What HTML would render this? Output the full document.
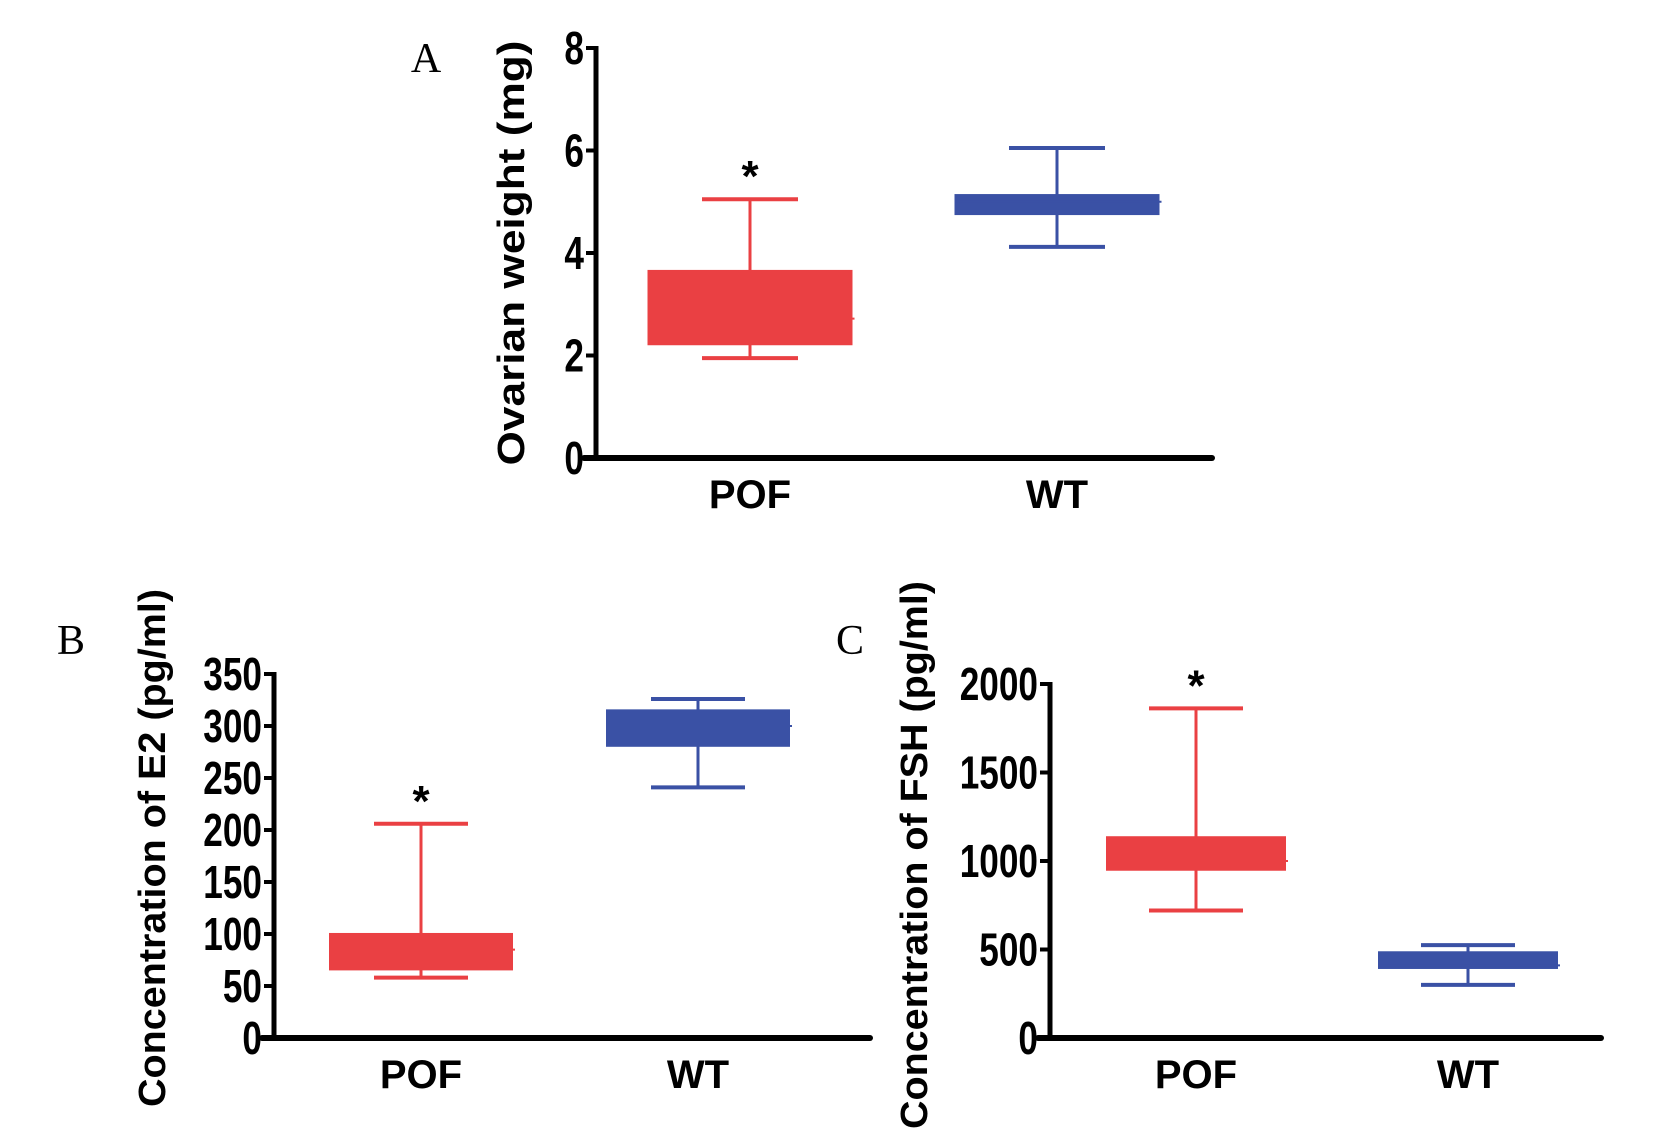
<!DOCTYPE html>
<html><head><meta charset="utf-8"><style>
html,body{margin:0;padding:0;background:#fff;}
svg{display:block;}
text{font-family:"Liberation Sans",Arial,sans-serif;font-weight:bold;fill:#000;}
.pl{font-family:"Liberation Serif",serif;font-weight:normal;}
</style></head><body>
<svg id="fig" width="1654" height="1143" viewBox="0 0 1654 1143" xmlns="http://www.w3.org/2000/svg"></svg>
<script>
const categories = ["POF", "WT"];
const colors = ["#ea4043", "#3a51a5"];
// Panel A: ovarian weight (mg) [min, q1, median, q3, max]
const aStats = [[1.95, 2.2, 2.72, 3.67, 5.05], [4.12, 4.74, 5.0, 5.15, 6.05]];
const aTicks = [0, 2, 4, 6, 8];
// Panel B: E2 (pg/ml)
const bStats = [[58, 65, 85, 101, 206], [241, 280, 300, 316, 326]];
const bTicks = [0, 50, 100, 150, 200, 250, 300, 350];
// Panel C: FSH (pg/ml)
const cStats = [[720, 945, 1000, 1140, 1862], [300, 390, 410, 490, 525]];
const cTicks = [0, 500, 1000, 1500, 2000];
const stars = ["POF"];

const NS = "http://www.w3.org/2000/svg";
const svg = document.getElementById("fig");
function el(tag, attrs, parent) {
  const e = document.createElementNS(NS, tag);
  for (const k in attrs) e.setAttribute(k, attrs[k]);
  (parent || svg).appendChild(e);
  return e;
}
function panel(cfg) {
  const g = el("g", {});
  
  
  const ymax = cfg.ticks[cfg.ticks.length - 1];
  const y = v => cfg.y0 - (v / ymax) * (cfg.y0 - cfg.yTop);
  const x = i => cfg.centers[i];
  const L = el("text", {x: cfg.letter[1], y: cfg.letter[2], class: "pl", "font-size": 42, "text-anchor": "middle"}, g);
  L.textContent = cfg.letter[0];
  
  
  cfg.stats.forEach((s, i) => {
    const c = colors[i], cx = x(i), hw = cfg.boxW / 2, cw = cfg.capW / 2;
    const w1 = el("line", {x1: cx, x2: cx, y1: y(s[4]), y2: y(s[0]), stroke: c, "stroke-width": 3}, g);
    
    
    [s[0], s[4]].forEach(v => {
      const cap = el("line", {x1: cx - cw, x2: cx + cw, y1: y(v), y2: y(v), stroke: c, "stroke-width": 4}, g);
      
      
    });
    const b = el("rect", {x: cx - hw, y: y(s[3]), width: cfg.boxW, height: y(s[1]) - y(s[3]), fill: c}, g);
    
    
    const m = el("line", {x1: cx - hw, x2: cx + hw + 2, y1: y(s[2]), y2: y(s[2]), stroke: c, "stroke-width": 2}, g);
    
    
    if (stars.includes(categories[i])) {
      const st = el("text", {x: cx, y: y(s[4]) - 8, "font-size": 44, "text-anchor": "middle"}, g);
      st.textContent = "*";
      
      
    }
    const xl = el("text", {x: cx, y: cfg.y0 + 50, "font-size": 40, "text-anchor": "middle"}, g);
    xl.textContent = categories[i];
    
    
  });
  const ya = el("line", {x1: cfg.ax, x2: cfg.ax, y1: cfg.yTop - 2, y2: cfg.y0 + 3, stroke: "#000", "stroke-width": 5}, g);
  
  
  const xa = el("line", {x1: cfg.ax - 12, x2: cfg.xEnd, y1: cfg.y0, y2: cfg.y0, stroke: "#000", "stroke-width": 6, "stroke-linecap": "round"}, g);
  
  
  cfg.ticks.forEach(t => {
    const tk = el("line", {x1: cfg.ax - 10, x2: cfg.ax, y1: y(t), y2: y(t), stroke: "#000", "stroke-width": 4}, g);
    
    
    const tl = el("text", {x: cfg.ax - 12, y: 0, "font-size": 40, "text-anchor": "end", transform: `translate(${cfg.ax - 12} 0) scale(0.88 1.15) translate(${-(cfg.ax - 12)} 0)`}, g);
    tl.setAttribute("y", (y(t) + 16) / 1.15);
    tl.textContent = t;
    
    
  });
  const tt = el("text", {x: 0, y: 0, "font-size": 38, "text-anchor": "middle", textLength: cfg.title[3], lengthAdjust: "spacingAndGlyphs", transform: `translate(${cfg.title[1]} ${cfg.title[2]}) rotate(-90)`}, g);
  tt.textContent = cfg.title[0];
  
  
}
panel({name: "panel-a-ovarian-weight", stats: aStats, ticks: aTicks, ax: 596, yTop: 48, y0: 458, xEnd: 1212,
  centers: [750, 1057], boxW: 205, capW: 96, letter: ["A", 426, 72], title: ["Ovarian weight (mg)", 524, 253, 425]});
panel({name: "panel-b-e2", stats: bStats, ticks: bTicks, ax: 274, yTop: 674, y0: 1038, xEnd: 870,
  centers: [421, 698], boxW: 184, capW: 94, letter: ["B", 71, 654], title: ["Concentration of E2 (pg/ml)", 165, 848, 518]});
panel({name: "panel-c-fsh", stats: cStats, ticks: cTicks, ax: 1050, yTop: 684, y0: 1038, xEnd: 1601,
  centers: [1196, 1468], boxW: 180, capW: 94, letter: ["C", 850, 654], title: ["Concentration of FSH (pg/ml)", 927, 855, 548]});
</script>
</body></html>
